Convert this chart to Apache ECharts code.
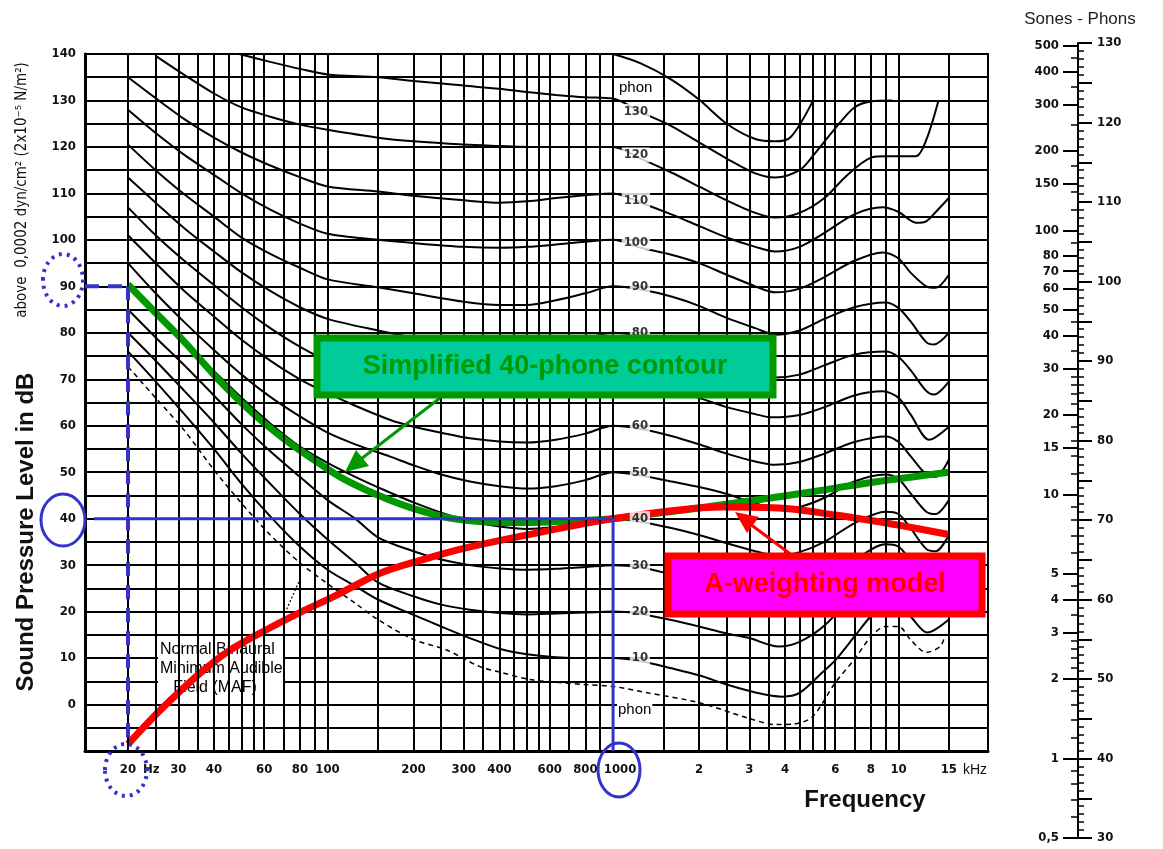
<!DOCTYPE html>
<html><head><meta charset="utf-8">
<script src="https://cdn.jsdelivr.net/npm/echarts@6/dist/echarts.min.js"></script>
<style>html,body{margin:0;padding:0;background:#fff}#c{width:1163px;height:849px}</style>
</head><body><div id="c"></div>
<script>
// ---------------- data ----------------
const freqMin = 14.14, freqMax = 20570;          // visible frequency range (Hz)
const dbMin = -10, dbMax = 140;
const gridFreqs = [20,25,30,35,40,45,50,55,60,70,80,90,100,150,200,250,300,350,400,450,500,550,600,700,800,900,1000,1500,2000,2500,3000,3500,4000,4500,5000,5500,6000,7000,8000,9000,10000,15000];
const xTickValues = [20,30,40,60,80,100,200,300,400,600,800,1000,2000,3000,4000,6000,8000,10000,15000];
const xTickLabels = ['20','30','40','60','80','100','200','300','400','600','800','1000','2','3','4','6','8','10','15'];

const c140 = [[1000,140],[1250,138],[1600,134.5],[2000,130.2],[2500,125],[3150,121.7],[3700,121.2],[4200,122.2],[5000,129.8]];
const c130 = [[49,140],[63,138.3],[80,136.8],[100,135.6],[150,135],[200,134.2],[300,133.2],[400,132.5],[500,131.8],[630,131.2],[800,130.7],[1000,130.4],[1250,127.5],[1600,124.5],[2000,121],[2500,117.5],[3150,114.3],[3700,113.4],[4500,115],[5000,118],[6000,124],[7000,128.5],[8000,129.8],[9500,130]];
const c120 = [[25,139.6],[31.5,135.5],[40,131.5],[50,128.5],[63,126.5],[80,124.8],[100,123.7],[150,122],[200,121.2],[300,120.5],[400,120.2],[500,120],[700,120],[1000,120],[1250,117.5],[1600,114.5],[2000,111.5],[2500,108.5],[3150,105.8],[3700,104.8],[4500,105.8],[5500,109],[6500,113.5],[8000,117.7],[9000,118],[10000,118],[11500,118],[12500,121.5],[13800,130]];
const c110 = [[20,135],[25,130.5],[31.5,126],[40,122],[50,118.8],[63,116],[80,113.5],[100,111.5],[150,110.4],[200,109.5],[300,108.5],[400,108],[500,108.3],[630,109],[800,109.6],[1000,110],[1250,108],[1600,105.5],[2000,103],[2500,100.5],[3150,98.5],[3700,97.5],[4500,98.5],[5500,101.5],[7000,105.5],[8800,107],[10000,106],[11500,103.7],[12500,104],[13500,106],[15000,109]];
const c100 = [[20,128],[25,123],[31.5,118.3],[40,114],[50,110],[63,106.5],[80,103.5],[100,101.3],[150,100],[200,99.3],[300,98.5],[400,98.3],[500,98.5],[630,99],[800,99.6],[1000,100],[1250,98.3],[1600,96.8],[2000,95],[2500,92.5],[3150,90],[3700,88.7],[4500,89.5],[5500,92],[7000,95.5],[8800,97.3],[10000,96],[11000,93],[12500,90],[13500,89.7],[15000,92.5]];
const c90 = [[20,120.5],[25,115],[31.5,109.8],[40,105],[50,100.5],[63,97],[80,94],[100,91.5],[150,89.8],[200,88.5],[300,86.7],[400,86],[500,86],[630,87],[800,88.5],[1000,90],[1250,89.3],[1600,87.8],[2000,85.8],[2500,83.2],[3150,81],[3700,79.6],[4500,80.5],[5500,83],[7000,85.5],[9000,86.5],[10000,85.3],[11000,82.5],[12500,78],[13300,77.5],[15000,80]];
const c80 = [[20,113.4],[25,108],[31.5,102.5],[40,97.5],[50,93],[63,89],[80,85.5],[100,83],[150,80.5],[200,79],[300,77.2],[400,76.5],[500,76.7],[630,77.6],[800,78.8],[1000,80],[1250,79.3],[1600,77.8],[2000,75.8],[2500,73.3],[3150,71.3],[3700,70.4],[4500,71],[5500,73],[7000,75.3],[9000,76],[10000,74.8],[11000,72],[12500,67.5],[13300,66.7],[15000,69.5]];
const c70 = [[20,107],[25,101],[31.5,95.5],[40,90.3],[50,85.5],[63,81],[80,77],[100,74],[150,71],[200,69.2],[300,67.3],[400,66.7],[500,66.8],[630,67.6],[800,68.8],[1000,70],[1250,69.3],[1600,67.8],[2000,66],[2500,64],[3150,62.5],[3600,61.8],[4500,62.3],[5500,64],[7000,66.5],[8800,67.4],[10000,66],[11000,62.5],[12800,57],[15000,59.8]];
const c60 = [[20,101],[25,95],[31.5,89],[40,83.5],[50,78.5],[63,74],[80,70],[100,67],[125,64.3],[165,61.3],[200,59.8],[250,58.5],[315,57.3],[400,56.6],[500,56.4],[630,57],[800,58.3],[1000,60],[1250,59.3],[1600,57.8],[2000,56],[2500,54],[3150,52.3],[3700,51.6],[4500,52.2],[5500,54],[7000,56.5],[9000,57.7],[10000,56.5],[11000,53.5],[12500,49.5],[13500,49],[15000,52.7]];
const c50 = [[20,95],[25,88.5],[31.5,82.3],[40,76.3],[50,71],[63,66.2],[80,62],[100,58.5],[125,56],[165,53.4],[200,51.5],[250,49.5],[315,48],[400,47],[500,46.5],[630,47],[800,48.3],[1000,50],[1250,49.3],[1600,48],[2000,46.8],[2500,45.3],[3150,43.3],[3800,42],[4500,42.5],[5500,44.5],[7000,48],[9000,49.5],[10000,48.5],[11000,45.5],[12500,41.5],[13500,41],[15000,44]];
const c40 = [[20,90],[25,84],[31.5,78],[40,71.8],[50,66],[63,60.5],[80,55.5],[100,52],[125,49],[160,46],[200,43.5],[250,41.3],[315,39.5],[400,38.3],[500,37.8],[630,38.2],[800,39],[1000,40],[1250,39.3],[1600,38],[2000,36.5],[2500,34.7],[3150,33],[3800,32],[4500,32.8],[5500,35],[7000,39],[9000,41.5],[10000,41],[11000,38],[12500,33.5],[13500,33],[15000,36.5]];
const c30 = [[20,85],[25,79],[31.5,73],[40,66.5],[50,60.3],[63,54.5],[80,49],[100,44],[125,40],[150,36],[200,33],[250,31.2],[315,30],[400,29.3],[500,29],[630,29.2],[800,29.6],[1000,30],[1250,29.5],[1600,28],[2000,26.5],[2500,25],[3150,23.3],[3800,22.3],[4500,23],[5500,26],[7000,31],[9000,34.5],[10000,34],[11000,31],[12500,26.5],[13500,26],[15000,29]];
const c20 = [[20,80],[25,74],[31.5,67.5],[40,60.7],[50,54],[63,47.5],[80,41],[100,35.5],[125,30.5],[150,26.3],[200,23.3],[250,21.5],[315,20.4],[400,19.7],[500,19.4],[630,19.6],[800,19.8],[1000,20],[1250,19.5],[1600,18.2],[2000,16.8],[2500,15.3],[3000,14.3],[3800,12.5],[4500,13.5],[5500,17],[7000,24],[8000,28.5],[9000,30],[10000,29],[11000,25.5],[12600,21.5],[15000,25]];
const c10 = [[20,76],[25,69.5],[31.5,62.5],[40,55],[50,47.5],[63,40.5],[80,34],[100,29],[125,25.5],[150,22.6],[200,19.3],[250,16.8],[315,14.3],[400,12],[500,10.8],[630,10.2],[800,10],[1000,10],[1250,9.3],[1600,7.8],[2000,6.3],[2500,4.3],[3150,2.6],[3900,1.7],[4500,2.5],[5400,6.9],[6000,9.5],[7000,14.6],[8000,19],[9000,21.5],[10000,21.5],[11000,19],[12600,15.5],[15000,18.3]];
const maf = [[20,72.7],[25,66],[31.5,59],[40,50.5],[50,43.3],[63,36.5],[80,30.5],[100,26],[125,21.8],[150,18.3],[200,14],[260,11.8],[340,8.2],[400,7],[510,5.4],[630,4.8],[800,4.3],[1000,3.9],[1300,2.6],[2000,0.4],[3000,-3],[3700,-4.3],[4300,-4.2],[5000,-2.6],[6000,4.7],[7000,9.7],[8000,14.6],[9000,16.8],[10000,16.8],[11000,14],[12500,11.2],[14000,12.5],[14500,14.6]];

const green40 = [[20,90.4],[25,84.3],[31.7,77.9],[41.4,70],[54.5,62.8],[71,57],[93,52],[115,48.4],[165,44],[220,41.4],[283,39.9],[400,39.2],[500,39.2],[700,39.5],[1000,40],[1500,41.3],[2000,42.3],[3000,43.8],[5000,45.8],[8000,47.8],[15000,50]];
const aWeight = [[20,-8.5],[25,-2.2],[30,2.5],[36,6.9],[45,11.5],[61,16.1],[80,19.8],[105,23.2],[152,28.2],[216,31.2],[300,33.6],[482,36.3],[700,38.3],[1000,40],[1500,41.5],[2400,42.5],[4000,42.2],[6000,40.8],[8000,39.6],[10000,38.6],[15000,36.6]];

const phonLabels = [130,120,110,100,90,80,70,60,50,40,30,20,10];
const blueDashV = [[20,90],[20,-8.6]];
const blueDashH = [[14.14,90],[20,90]];
const blueSolid = [[15.2,40],[1000,40],[1000,-10]];

const soneLabels = [0.5,1,2,3,4,5,10,15,20,30,40,50,60,70,80,100,150,200,300,400,500];
const soneMinor = [0.6,0.7,0.8,0.9,1.2,1.4,1.6,1.8,2.2,2.4,2.6,2.8,3.5,4.5,6,7,8,9,12,14,16,18,22,24,26,28,35,45,90,120,140,175,250,350,450];
// -------------------------------------

const condensed = '"Liberation Sans Narrow","DejaVu Sans Condensed","DejaVu Sans",sans-serif';
const sans = '"Liberation Sans",Arial,sans-serif';
const phonOf = s => 40 + 10 * Math.log2(s);
const blue = '#3333cc';

const chart = echarts.init(document.getElementById('c'), null, {renderer: 'canvas', width: 1163, height: 849});

const contourList = [c140, c130, c120, c110, c100, c90, c80, c70, c60, c50, c40, c30, c20, c10];
const series = [];

series.push({
  name: 'grid', type: 'line', data: [], z: 1, silent: true,
  markLine: {silent: true, symbol: ['none','none'], animation: false,
    label: {show: false}, lineStyle: {color: '#000', width: 2, type: 'solid'},
    emphasis: {disabled: true},
    data: gridFreqs.map(f => ({xAxis: f}))}
});
contourList.forEach((c, i) => series.push({
  name: 'contour' + i, type: 'line', data: c, smooth: 0.3, showSymbol: false, z: 3,
  lineStyle: {color: '#000', width: 2}, silent: true, animation: false
}));
series.push({name: 'MAF', type: 'line', data: maf, smooth: 0.3, showSymbol: false, z: 3,
  lineStyle: {color: '#000', width: 1.5, type: [5, 4]}, silent: true, animation: false});
series.push({name: 'green', type: 'line', data: green40, smooth: 0.35, showSymbol: false, z: 4,
  lineStyle: {color: '#009900', width: 7}, silent: true, animation: false});
series.push({name: 'red', type: 'line', data: aWeight, smooth: 0.35, showSymbol: false, z: 4,
  lineStyle: {color: '#ff0000', width: 7}, silent: true, animation: false});
series.push({name: 'labels', type: 'scatter', symbolSize: 0, z: 5, silent: true, animation: false,
  data: phonLabels.map(p => ({value: [1000, p], label: {offset: [37, p >= 130 ? 11 : p >= 120 ? 8 : p >= 110 ? 7 : p >= 100 ? 3 : 0]}})),
  label: {show: true, position: 'inside', align: 'right', formatter: pr => String(pr.value[1]),
    backgroundColor: '#fff', padding: [1, 2], color: '#000', fontFamily: condensed, fontSize: 13, fontWeight: 'bold'}
});
const blueLine = (d, type, w) => ({type: 'line', data: d, showSymbol: false, z: 6, silent: true, animation: false,
  lineStyle: {color: blue, width: w, type: type}});
series.push(blueLine(blueDashV, [14, 9], 4));
series.push(blueLine(blueDashH, [14, 9], 4));
series.push(blueLine(blueSolid, 'solid', 3));

const axisFont = {fontFamily: condensed, fontSize: 13, fontWeight: 'bold', color: '#111'};

const option = {
  animation: false,
  backgroundColor: '#fff',
  grid: [
    {left: 85, top: 54, right: 175, bottom: 98, show: true, borderColor: '#000', borderWidth: 2},
    {left: 1078, top: 43, width: 2, height: 795}
  ],
  xAxis: [
    {type: 'log', gridIndex: 0, min: freqMin, max: freqMax,
      axisLine: {show: true, onZero: false, lineStyle: {color: '#000', width: 3}}, axisTick: {show: false},
      axisLabel: {show: false}, splitLine: {show: false}, minorSplitLine: {show: false}},
    {type: 'value', gridIndex: 0, min: Math.log10(freqMin), max: Math.log10(freqMax), position: 'bottom',
      axisLine: {show: false, onZero: false}, axisTick: {show: false}, splitLine: {show: false},
      axisLabel: Object.assign({customValues: xTickValues.map(v => Math.log10(v)), margin: 12,
        formatter: v => { const i = xTickValues.findIndex(t => Math.abs(Math.log10(t) - v) < 1e-6); return i < 0 ? '' : (xTickLabels[i] === '1000' ? '{r|1000}' : xTickLabels[i]); },
        rich: {r: {padding: [0, 0, 0, 14], fontFamily: condensed, fontSize: 13, fontWeight: 'bold', color: '#111'}}}, axisFont)},
    {type: 'value', gridIndex: 1, min: 0, max: 1, show: false}
  ],
  yAxis: [
    {type: 'value', gridIndex: 0, min: dbMin, max: dbMax, interval: 5,
      axisLine: {show: true, onZero: false, lineStyle: {color: '#000', width: 3}}, axisTick: {show: false},
      splitLine: {show: true, lineStyle: {color: '#000', width: 2}},
      axisLabel: Object.assign({margin: 9, formatter: v => (v >= 0 && v % 10 === 0) ? String(v) : ''}, axisFont)},
    {type: 'value', gridIndex: 1, position: 'right', min: 30, max: 130, interval: 5,
      axisLine: {show: true, lineStyle: {color: '#000', width: 2}},
      axisTick: {show: true, length: 14, lineStyle: {color: '#000', width: 2}},
      minorTick: {show: true, splitNumber: 5, length: 6, lineStyle: {color: '#000', width: 1.5}},
      splitLine: {show: false},
      axisLabel: Object.assign({margin: 17, formatter: v => v % 10 === 0 ? String(v) : ''}, axisFont)},
    {type: 'value', gridIndex: 1, position: 'left', min: 30, max: 130,
      axisLine: {show: false}, splitLine: {show: false},
      axisTick: {show: true, length: 15, customValues: soneLabels.map(phonOf), lineStyle: {color: '#000', width: 2}},
      axisLabel: Object.assign({margin: 19, customValues: soneLabels.map(phonOf),
        formatter: v => { const s = soneLabels.find(t => Math.abs(phonOf(t) - v) < 1e-6); return s === undefined ? '' : String(s).replace('.', ','); }}, axisFont)},
    {type: 'value', gridIndex: 1, position: 'left', min: 30, max: 130,
      axisLine: {show: false}, splitLine: {show: false}, axisLabel: {show: false},
      axisTick: {show: true, length: 7, customValues: soneMinor.map(phonOf), lineStyle: {color: '#000', width: 1.5}}}
  ],
  series: series,
  graphic: [
    {type: 'text', z: 2, x: 158, y: 638, style: {text: 'Normal Binaural\nMinimum Audible\n   Field (MAF)', font: '16px ' + sans, fill: '#000', backgroundColor: '#fff', lineHeight: 19, padding: [2, 2]}},
    {type: 'polyline', z: 2, shape: {points: [[285, 613], [301, 577]]}, style: {stroke: '#000', lineWidth: 1.2, lineDash: [2, 2], fill: null}},
    {type: 'text', z: 9, x: 618, y: 80, style: {text: 'phon', font: '15px ' + sans, fill: '#000', backgroundColor: '#fff', padding: [0, 1]}},
    {type: 'text', z: 9, x: 617, y: 702, style: {text: 'phon', font: '15px ' + sans, fill: '#000', backgroundColor: '#fff', padding: [0, 1]}},
    {type: 'text', z: 9, x: 143, y: 763, style: {text: 'Hz', font: 'bold 13px ' + condensed, fill: '#111'}},
    {type: 'text', z: 9, x: 963, y: 763, style: {text: 'kHz', font: '14px ' + sans, fill: '#111'}},
    {type: 'text', z: 9, x: 865, y: 800, style: {text: 'Frequency', font: 'bold 24px ' + sans, fill: '#111', textAlign: 'center', textVerticalAlign: 'middle'}},
    {type: 'text', z: 9, x: 26, y: 532, rotation: Math.PI / 2, style: {text: 'Sound Pressure Level in dB', font: 'bold 24px ' + sans, fill: '#111', textAlign: 'center', textVerticalAlign: 'middle'}},
    {type: 'text', z: 9, x: 22, y: 190, rotation: Math.PI / 2, style: {text: 'above  0,0002 dyn/cm² (2x10⁻⁵ N/m²)', font: '15px ' + condensed, fill: '#111', textAlign: 'center', textVerticalAlign: 'middle'}},
    {type: 'text', z: 9, x: 1080, y: 19, style: {text: 'Sones - Phons', font: '17px ' + sans, fill: '#222', textAlign: 'center', textVerticalAlign: 'middle'}},
    // green annotation
    {type: 'rect', z: 10, shape: {x: 317, y: 338, width: 456, height: 57}, style: {fill: '#00cc99', stroke: '#009900', lineWidth: 7}},
    {type: 'text', z: 11, x: 545, y: 367, style: {text: 'Simplified 40-phone contour', font: 'bold 27px ' + sans, fill: '#009900', textAlign: 'center', textVerticalAlign: 'middle'}},
    {type: 'line', z: 10, shape: {x1: 440, y1: 398, x2: 352, y2: 466}, style: {stroke: '#009900', lineWidth: 3}},
    {type: 'polygon', z: 10, shape: {points: [[345, 472], [369, 466], [356, 450]]}, style: {fill: '#009900'}},
    // red annotation
    {type: 'rect', z: 10, shape: {x: 668, y: 556, width: 314, height: 58}, style: {fill: '#ff00ff', stroke: '#ff0000', lineWidth: 7}},
    {type: 'text', z: 11, x: 825, y: 585, style: {text: 'A-weighting model', font: 'bold 27px ' + sans, fill: '#ff0000', textAlign: 'center', textVerticalAlign: 'middle'}},
    {type: 'line', z: 10, shape: {x1: 793, y1: 556, x2: 742, y2: 518}, style: {stroke: '#ff0000', lineWidth: 3}},
    {type: 'polygon', z: 10, shape: {points: [[735, 512], [759, 517], [747, 533]]}, style: {fill: '#ff0000'}},
    // blue ellipses
    {type: 'ellipse', z: 10, shape: {cx: 63, cy: 280, rx: 20, ry: 26}, style: {fill: null, stroke: blue, lineWidth: 4, lineDash: [3, 5]}},
    {type: 'ellipse', z: 10, shape: {cx: 126, cy: 770, rx: 21, ry: 26}, style: {fill: null, stroke: blue, lineWidth: 4, lineDash: [3, 5]}},
    {type: 'ellipse', z: 10, shape: {cx: 63, cy: 520, rx: 22, ry: 26}, style: {fill: null, stroke: blue, lineWidth: 3}},
    {type: 'ellipse', z: 10, shape: {cx: 619, cy: 770, rx: 21, ry: 27}, style: {fill: null, stroke: blue, lineWidth: 3}}
  ]
};
chart.setOption(option);
</script>
</body></html>
